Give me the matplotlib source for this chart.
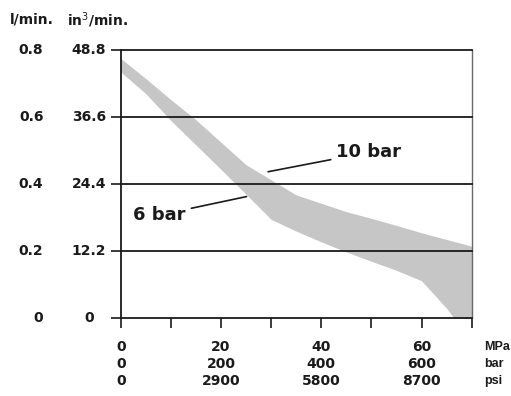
#!/usr/bin/env python3
"""Flow rate band (6 bar / 10 bar) versus pressure, redrawn from a scanned chart."""

import matplotlib

matplotlib.use("Agg")
import matplotlib.pyplot as plt

# pressure in MPa
pressure_mpa = [0, 5, 10, 15, 20, 25, 30, 35, 40, 45, 50, 55, 60, 65, 66.5, 70]
# flow in l/min, upper edge of band (10 bar) and lower edge (6 bar)
flow_10bar = [0.775, 0.715, 0.652, 0.592, 0.525, 0.458, 0.413, 0.368, 0.343,
              0.318, 0.298, 0.277, 0.255, 0.235, 0.229, 0.215]
flow_6bar = [0.735, 0.670, 0.590, 0.517, 0.444, 0.370, 0.295, 0.260, 0.228,
             0.198, 0.170, 0.143, 0.112, 0.030, 0.0, 0.0]

y_ticks = [0, 0.2, 0.4, 0.6, 0.8]
y_labels_lmin = ["0", "0.2", "0.4", "0.6", "0.8"]
y_labels_in3 = ["0", "12.2", "24.4", "36.6", "48.8"]

x_ticks = [0, 10, 20, 30, 40, 50, 60, 70]
x_label_pos = [0, 20, 40, 60]
x_labels_mpa = ["0", "20", "40", "60"]
x_labels_bar = ["0", "200", "400", "600"]
x_labels_psi = ["0", "2900", "5800", "8700"]

FONT = "DejaVu Sans"
UNIT_FONT = "Liberation Sans"
INK = "#1a1a1a"


def main() -> None:
    fig = plt.figure(figsize=(5.11, 3.96), dpi=100)
    ax = fig.add_axes([0.2362, 0.1962, 0.6868, 0.6775])

    ax.fill_between(pressure_mpa, flow_6bar, flow_10bar, color="#c6c6c6",
                    linewidth=0)

    ax.set_xlim(0, 70)
    ax.set_ylim(0, 0.8)

    for y in y_ticks[1:]:
        ax.axhline(y, color=INK, linewidth=1.3, zorder=3, clip_on=False)

    for side in ("left", "bottom"):
        ax.spines[side].set_color(INK)
        ax.spines[side].set_linewidth(1.3)
    ax.spines["top"].set_visible(False)
    ax.spines["right"].set_color("#6a6a6a")
    ax.spines["right"].set_linewidth(1.0)

    ax.set_xticks(x_ticks)
    ax.set_xticklabels([])
    ax.set_yticks(y_ticks)
    ax.set_yticklabels([])
    ax.tick_params(axis="both", direction="out", length=7, width=1.2,
                   color=INK)

    text_kw = dict(fontfamily=FONT, fontweight="bold", fontsize=10,
                   color=INK)

    # two columns of y labels
    ytrans = ax.get_yaxis_transform()
    for y, a, b in zip(y_ticks, y_labels_lmin, y_labels_in3):
        ax.text(-0.220, y, a, transform=ytrans, ha="right", va="center",
                **text_kw)
        ax.text(-0.090, y, b, transform=ytrans, ha="center", va="center",
                **text_kw)
    ax.text(-0.315, 1.112, "l/min.", transform=ax.transAxes, ha="left",
            va="center", **text_kw)
    ax.text(-0.152, 1.112, "in$^3$/min.", transform=ax.transAxes,
            ha="left", va="center", **text_kw)

    # three rows of x labels, unit names at the right edge
    xtrans = ax.get_xaxis_transform()
    rows = [(-0.107, x_labels_mpa, "MPa"), (-0.170, x_labels_bar, "bar"),
            (-0.234, x_labels_psi, "psi")]
    for y, labels, unit in rows:
        for x, lab in zip(x_label_pos, labels):
            ax.text(x, y, lab, transform=xtrans, ha="center", va="center",
                    **text_kw)
        ax.text(72.4, y, unit, transform=xtrans, ha="left", va="center",
                fontfamily=UNIT_FONT, fontweight="bold", fontsize=9,
                color=INK)

    # band annotations
    ann_kw = dict(fontfamily=FONT, fontweight="bold", fontsize=13, color=INK,
                  va="center")
    ax.annotate("10 bar", xy=(29.4, 0.437), xytext=(43.0, 0.495),
                ha="left", arrowprops=dict(arrowstyle="-", color=INK,
                                           lw=1.2, shrinkA=2, shrinkB=0),
                **ann_kw)
    ax.annotate("6 bar", xy=(25.1, 0.363), xytext=(13.0, 0.308),
                ha="right", arrowprops=dict(arrowstyle="-", color=INK,
                                            lw=1.2, shrinkA=2, shrinkB=0),
                **ann_kw)

    fig.savefig("out.png", dpi=100)
    plt.close(fig)


if __name__ == "__main__":
    main()
